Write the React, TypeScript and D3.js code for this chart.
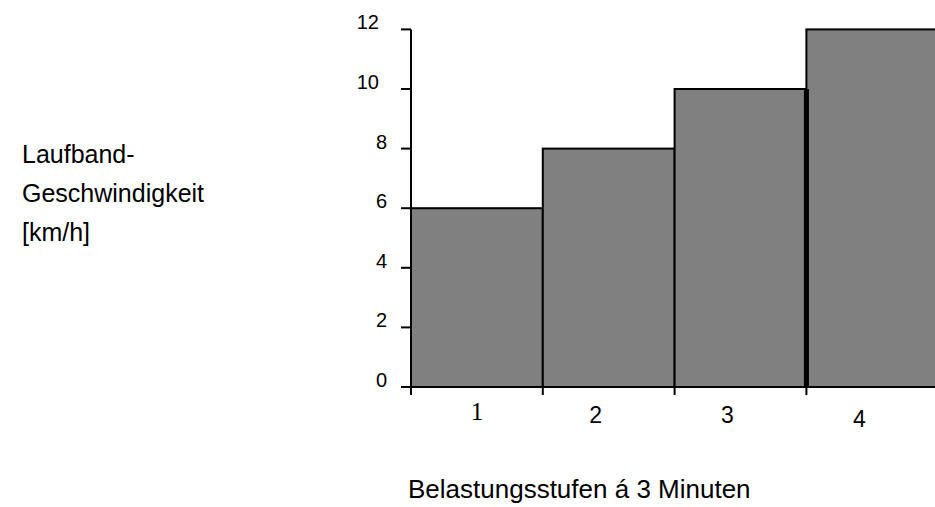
import React from "react";
import * as d3 from "d3";

const stages = ["1", "2", "3", "4"];
const speeds = [6, 8, 10, 12];
const yTicks = [0, 2, 4, 6, 8, 10, 12];
const yTitleLines = ["Laufband-", "Geschwindigkeit", "[km/h]"];
const xTitle = "Belastungsstufen á 3 Minuten";

const W = 935;
const H = 507;

export default function App() {
  const x = d3.scaleLinear().domain([0, 4]).range([411, 411 + 4 * 131.8]);
  const y = d3.scaleLinear().domain([0, 12]).range([387, 29.4]);
  const sans = "'Liberation Sans', Arial, sans-serif";
  const serif = "'Liberation Serif', 'Times New Roman', serif";

  return (
    <svg
      width={W}
      height={H}
      style={{ position: "absolute", left: 0, top: 0, background: "#fff" }}
    >
      {/* bars */}
      {speeds.map((v, i) => (
        <rect
          key={i}
          x={x(i)}
          y={y(v)}
          width={x(i + 1) - x(i)}
          height={y(0) - y(v)}
          fill="#808080"
          stroke="#000"
          strokeWidth={2}
        />
      ))}
      {/* thick separator between bar 3 and 4 */}
      <line
        x1={x(3)}
        x2={x(3)}
        y1={y(speeds[2])}
        y2={y(0)}
        stroke="#000"
        strokeWidth={5}
      />
      {/* y axis */}
      <line x1={x(0)} x2={x(0)} y1={y(12)} y2={y(0) + 8} stroke="#000" strokeWidth={2} />
      {yTicks.map((t) => (
        <g key={t}>
          <line x1={x(0) - 10} x2={x(0)} y1={y(t)} y2={y(t)} stroke="#000" strokeWidth={2} />
          <text
            x={387 - (String(t).length > 1 ? 8 : 0)}
            y={y(t)}
            textAnchor="end"
            fontFamily={sans}
            fontSize={20}
            fill="#000"
          >
            {t}
          </text>
        </g>
      ))}
      {/* x axis */}
      <line x1={x(0)} x2={W} y1={y(0)} y2={y(0)} stroke="#000" strokeWidth={2} />
      {d3.range(0, 4).map((i) => (
        <line key={i} x1={x(i)} x2={x(i)} y1={y(0)} y2={y(0) + 8} stroke="#000" strokeWidth={2} />
      ))}
      {stages.map((s, i) => (
        <text
          key={s}
          x={x(i + 0.5) + (i === 0 ? 0 : -13)}
          y={i === 0 ? 420 : i === 3 ? 427 : 423}
          textAnchor="middle"
          fontFamily={i === 0 ? serif : sans}
          fontSize={i === 0 ? 25 : 23}
          fill="#000"
        >
          {s}
        </text>
      ))}
      {/* y title */}
      {yTitleLines.map((l, i) => (
        <text key={l} x={22} y={163 + i * 39} fontFamily={sans} fontSize={25} fill="#000">
          {l}
        </text>
      ))}
      {/* x title */}
      <text x={408} y={498} fontFamily={sans} fontSize={26} fill="#000">
        {xTitle}
      </text>
    </svg>
  );
}
